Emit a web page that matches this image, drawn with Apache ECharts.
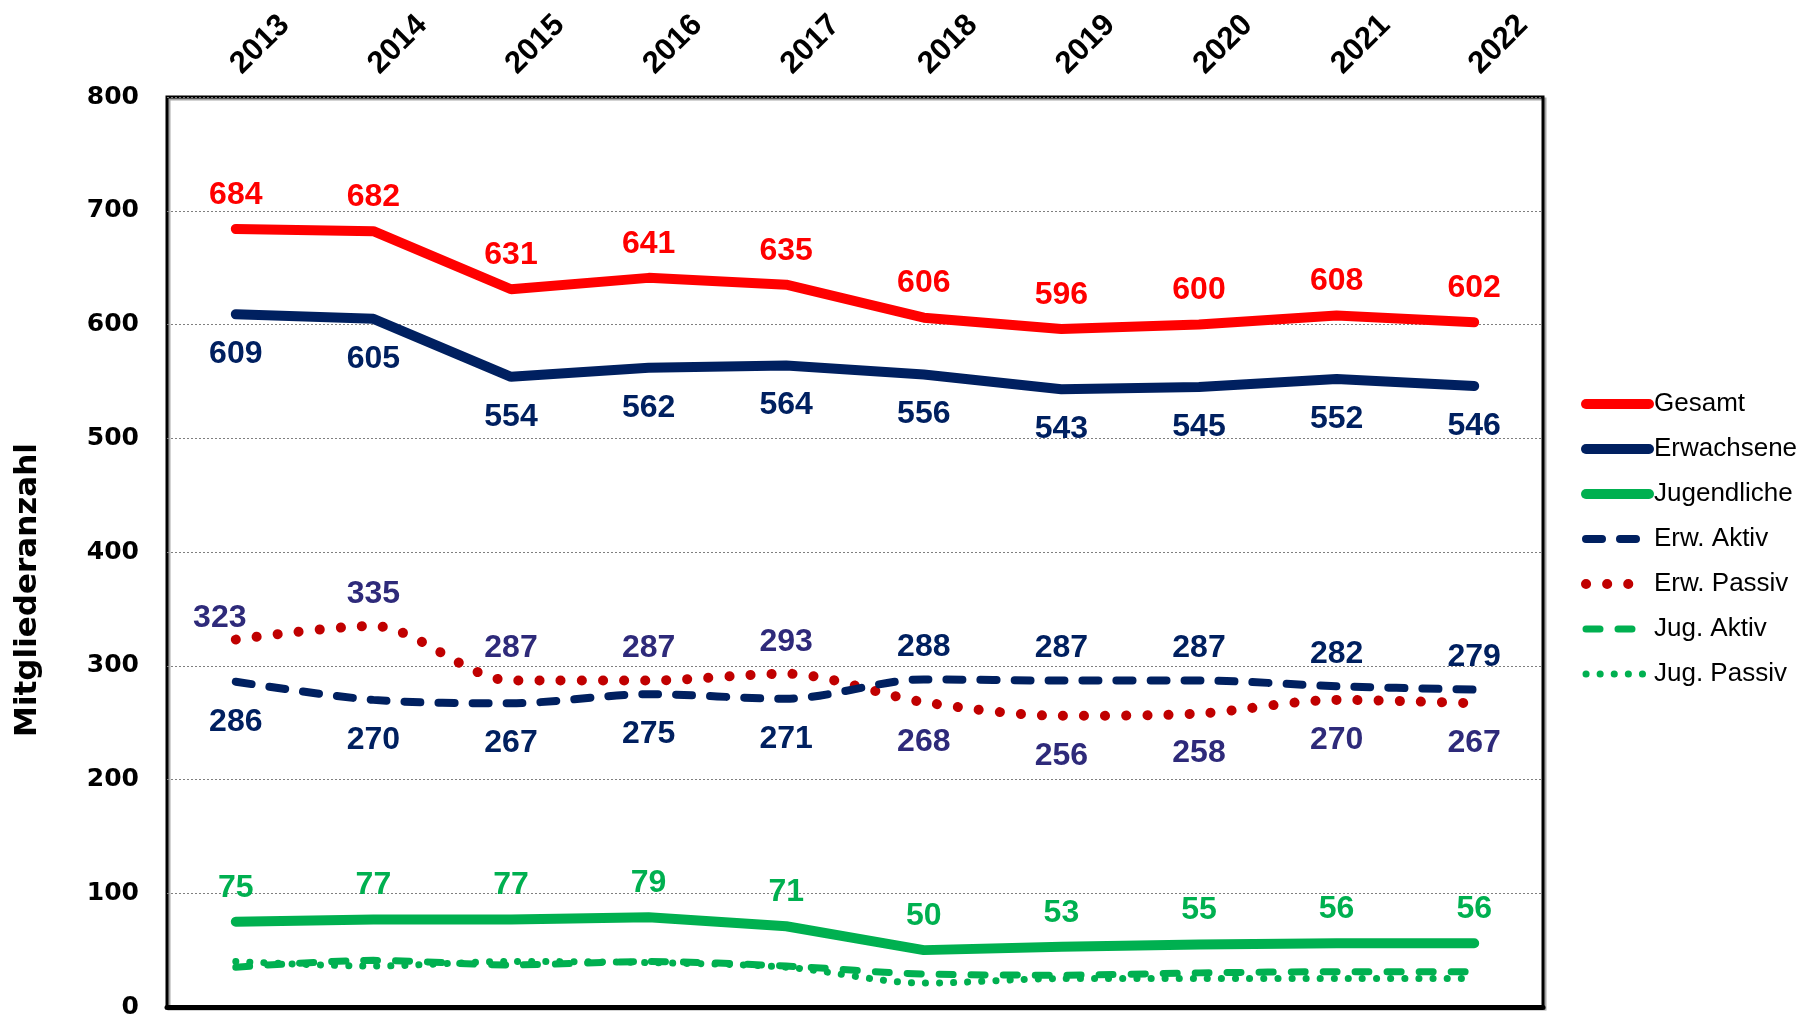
<!DOCTYPE html>
<html>
<head>
<meta charset="utf-8">
<script src="https://cdn.jsdelivr.net/npm/echarts@6/dist/echarts.min.js"></script>
<style>
html,body{margin:0;padding:0;background:#fff;}
#chart{width:1808px;height:1020px;}
</style>
</head>
<body>
<div id="chart"></div>
<script>
const years = ['2013','2014','2015','2016','2017','2018','2019','2020','2021','2022'];
const gesamt      = [684, 682, 631, 641, 635, 606, 596, 600, 608, 602];
const erwachsene  = [609, 605, 554, 562, 564, 556, 543, 545, 552, 546];
const jugendliche = [75, 77, 77, 79, 71, 50, 53, 55, 56, 56];
const erwAktiv    = [286, 270, 267, 275, 271, 288, 287, 287, 282, 279];
const erwPassiv   = [323, 335, 287, 287, 293, 268, 256, 258, 270, 267];
const jugAktiv    = [35, 41, 37, 40, 36, 29, 28, 30, 31, 31];
const jugPassiv   = [40, 36, 40, 39, 35, 21, 25, 25, 25, 25];
const yTicks = [0, 100, 200, 300, 400, 500, 600, 700, 800];
const yTitle = 'Mitgliederanzahl';

const FONT = "'Liberation Sans', Arial, sans-serif";
const labelFont = {fontFamily: FONT, fontWeight: 'bold', fontSize: 32};

function pairLabels(vals, other, color, firstOffset) {
  return vals.map((v, i) => {
    const top = v >= other[i];
    const label = {show: true, position: top ? 'top' : 'bottom', distance: top ? 16 : 24, color: color, ...labelFont};
    if (i === 0 && firstOffset) label.offset = firstOffset;
    return {value: v, label};
  });
}

const common = {type: 'line', symbol: 'circle', symbolSize: 0.01, showSymbol: true};

const chart = echarts.init(document.getElementById('chart'));
chart.setOption({
  animation: false,
  backgroundColor: '#fff',
  grid: {left: 167, right: 265, top: 97, bottom: 13, show: true, borderColor: '#000', borderWidth: 3,
         shadowColor: 'rgba(0,0,0,0.35)', shadowOffsetX: 2, shadowOffsetY: 2, shadowBlur: 0},
  graphic: [{
    type: 'text', x: 28, y: 590, rotation: Math.PI / 2,
    style: {text: yTitle, fontFamily: "'DejaVu Sans', sans-serif", fontWeight: 'bold', fontSize: 31,
            fill: '#000', align: 'center', verticalAlign: 'middle'}
  }],
  legend: {
    orient: 'vertical', left: 1576, top: 386,
    itemWidth: 63, itemHeight: 14, itemGap: 19,
    itemStyle: {opacity: 0},
    lineStyle: {width: 'inherit', type: 'inherit', cap: 'round'},
    textStyle: {fontFamily: FONT, fontSize: 26, color: '#000'},
    data: ['Gesamt','Erwachsene','Jugendliche','Erw. Aktiv','Erw. Passiv','Jug. Aktiv','Jug. Passiv']
  },
  xAxis: {
    type: 'category', position: 'top', data: years, boundaryGap: true,
    axisLine: {show: true, lineStyle: {color: '#000', width: 5}},
    axisTick: {show: false},
    axisLabel: {rotate: 45, margin: 28, color: '#000', fontFamily: FONT, fontWeight: 'bold', fontSize: 31}
  },
  yAxis: {
    type: 'value', min: yTicks[0], max: yTicks[yTicks.length-1], interval: 100,
    axisLine: {show: false}, axisTick: {show: false},
    axisLabel: {margin: 28, color: '#000', fontFamily: "'DejaVu Sans', sans-serif", fontWeight: 'bold', fontSize: 25},
    splitLine: {show: true, lineStyle: {color: '#7f7f7f', width: 1, type: [2, 2]}}
  },
  series: [
    {...common, name: 'Jug. Passiv', smooth: 0.3, z: 2, data: jugPassiv,
     itemStyle: {color: '#00B050'}, lineStyle: {color: '#00B050', width: 7, type: [0.1, 14], cap: 'round'}},
    {...common, name: 'Jug. Aktiv', smooth: 0.3, z: 2, data: jugAktiv,
     itemStyle: {color: '#00B050'}, lineStyle: {color: '#00B050', width: 7, type: [14, 18], cap: 'round'}},
    {...common, name: 'Erw. Passiv', smooth: 0.3, z: 3, data: pairLabels(erwPassiv, erwAktiv, '#2E2A7A', [-16, 11]),
     itemStyle: {color: '#C00000'}, lineStyle: {color: '#C00000', width: 10, type: [0.1, 21], cap: 'round'}},
    {...common, name: 'Erw. Aktiv', smooth: 0.3, z: 3, data: pairLabels(erwAktiv, erwPassiv, '#002060', null),
     itemStyle: {color: '#002060'}, lineStyle: {color: '#002060', width: 8, type: [16, 18], cap: 'round'}},
    {...common, name: 'Jugendliche', z: 4, data: jugendliche,
     itemStyle: {color: '#00B050'}, lineStyle: {color: '#00B050', width: 10, cap: 'round'},
     label: {show: true, position: 'top', distance: 18, color: '#00B050', ...labelFont}},
    {...common, name: 'Erwachsene', z: 5, data: erwachsene,
     itemStyle: {color: '#002060'}, lineStyle: {color: '#002060', width: 10, cap: 'round'},
     label: {show: true, position: 'bottom', distance: 24, color: '#002060', ...labelFont}},
    {...common, name: 'Gesamt', z: 6, data: gesamt,
     itemStyle: {color: '#FF0000'}, lineStyle: {color: '#FF0000', width: 10, cap: 'round'},
     label: {show: true, position: 'top', distance: 18, color: '#FF0000', ...labelFont}}
  ]
});
</script>
</body>
</html>
